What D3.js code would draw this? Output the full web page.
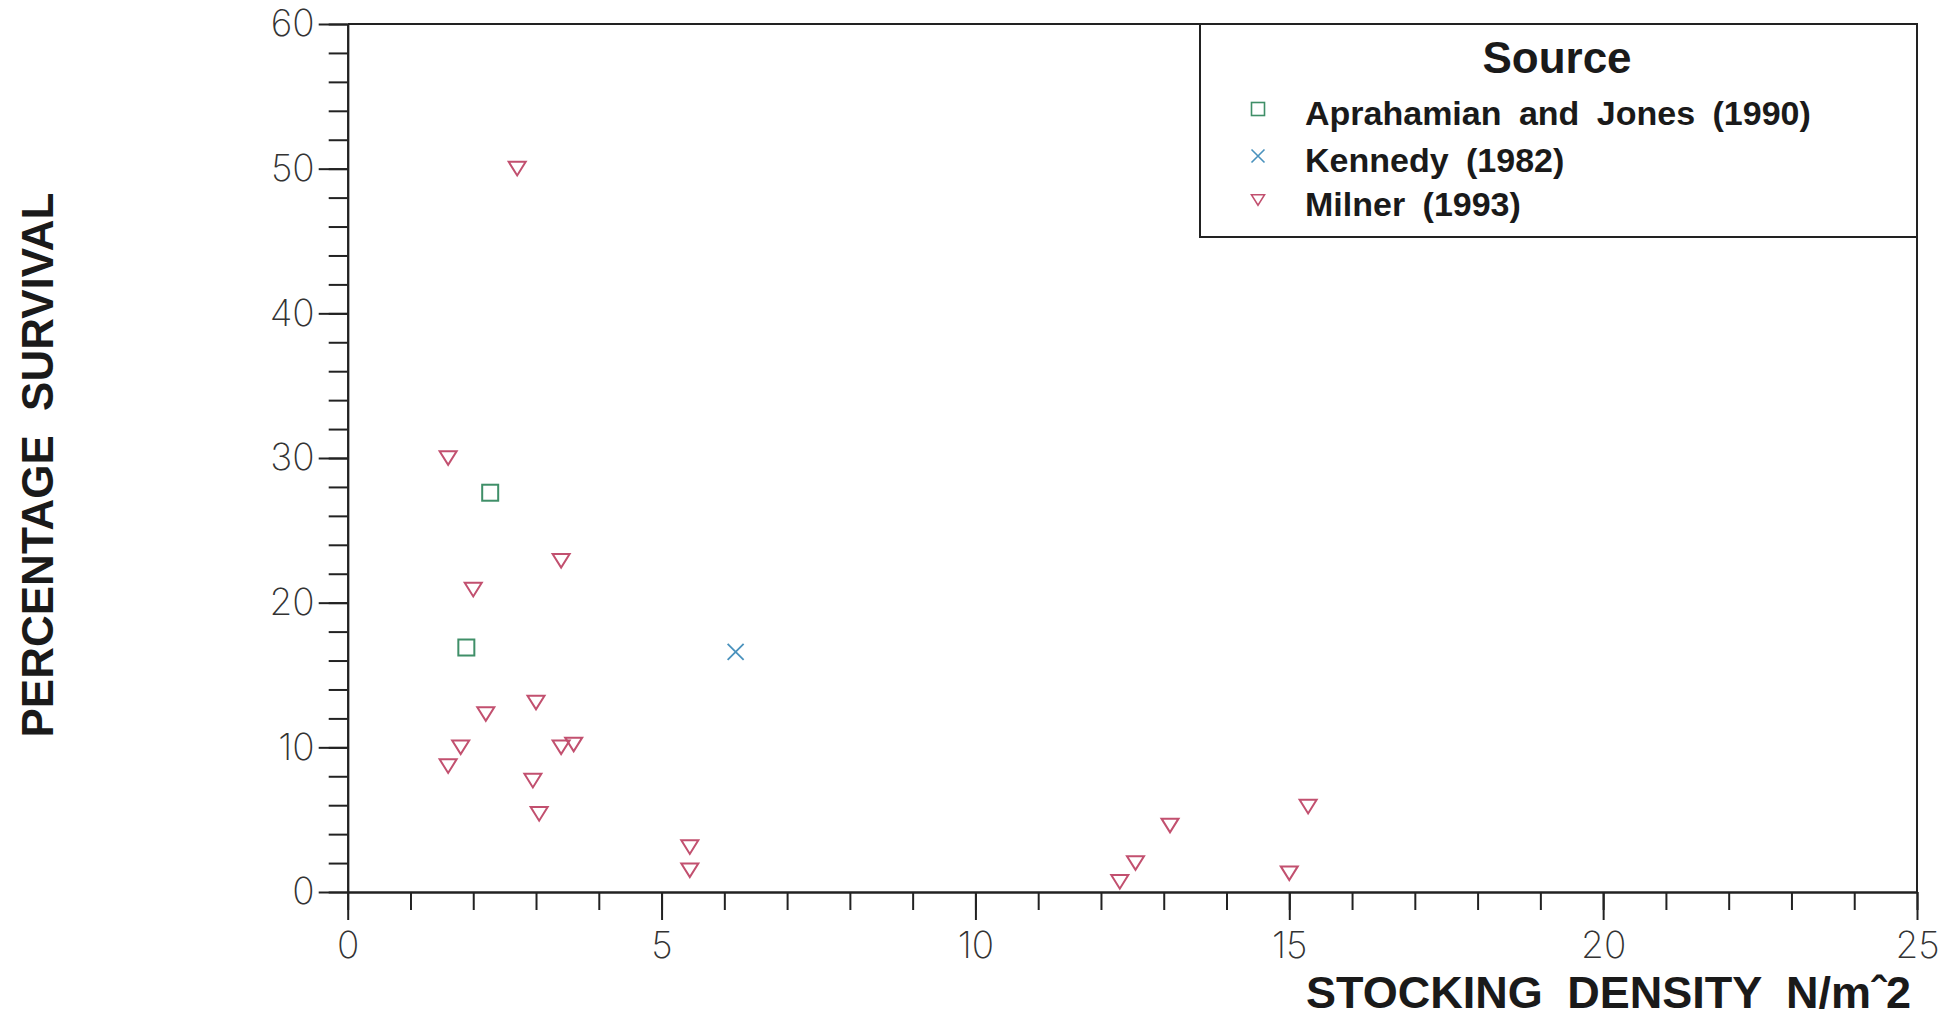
<!DOCTYPE html>
<html lang="en">
<head>
<meta charset="utf-8">
<title>Percentage survival vs stocking density</title>
<script src="https://cdn.jsdelivr.net/npm/d3@7"></script>
<style>
    body { margin: 0; background: #fff; }
    .axis path, .axis line { stroke: #222; stroke-width: 2; fill: none; }
    .axis text { font-family: Inter, sans-serif; font-weight: 200; font-size: 37px; fill: #333; }
    .bold { font-family: "Liberation Sans", Arial, sans-serif; font-weight: bold; fill: #1a1a1a; }
</style>
</head>
<body>
<script>
var w = 1959, h = 1019;

// data: [stocking density, percentage survival]
var milner = [[2.7, 50], [1.6, 30], [3.4, 22.9], [2.0, 20.9], [3.0, 13.1], [2.2, 12.3],
              [1.8, 10.0], [1.6, 8.7], [3.4, 10.0], [3.6, 10.2], [2.95, 7.7], [3.05, 5.4],
              [5.45, 3.1], [5.45, 1.5], [12.3, 0.7], [12.55, 2.0], [13.1, 4.6], [15.0, 1.3], [15.3, 5.9]];
var aprahamian = [[2.27, 27.6], [1.89, 16.9]];
var kennedy = [[6.18, 16.6]];

var xTicks = [0, 5, 10, 15, 20, 25];
var yTicks = [0, 10, 20, 30, 40, 50, 60];
var legendTitle = "Source";
var legendNames = ["Aprahamian and Jones (1990)", "Kennedy (1982)", "Milner (1993)"];

var colors = { square: "#3f8f68", cross: "#4a92bd", tri: "#c2506f" };

var svg = d3.select("body").append("svg").attr("width", w).attr("height", h);

var x = d3.scaleLinear().domain([0, 25]).range([347.7, 1917]);
var y = d3.scaleLinear().domain([0, 60]).range([892, 24]);

// minor ticks first, then the major ones with labels
svg.append("g").attr("class", "axis")
    .attr("transform", "translate(0," + y(0) + ")")
    .call(d3.axisBottom(x).tickValues(d3.range(0, 26, 1)).tickSize(18).tickSizeOuter(0).tickFormat(""));
svg.append("g").attr("class", "axis")
    .attr("transform", "translate(0," + y(0) + ")")
    .call(d3.axisBottom(x).tickValues(xTicks).tickSize(28).tickSizeOuter(0).tickPadding(12));

svg.append("g").attr("class", "axis")
    .attr("transform", "translate(" + x(0) + ",0)")
    .call(d3.axisLeft(y).tickValues(d3.range(0, 61, 2)).tickSize(19).tickSizeOuter(0).tickFormat(""));
svg.append("g").attr("class", "axis")
    .attr("transform", "translate(" + x(0) + ",0)")
    .call(d3.axisLeft(y).tickValues(yTicks).tickSize(29).tickSizeOuter(0).tickPadding(4));

// top and right frame
svg.append("path")
    .attr("d", "M" + x(0) + "," + y(60) + "H" + x(25) + "V" + y(0))
    .attr("fill", "none").attr("stroke", "#222").attr("stroke-width", 2);

// marker shapes
function triPath(cx, cy, s) {
    return "M" + (cx - s * 0.5) + "," + (cy - s * 0.4) + "L" + (cx + s * 0.5) + "," + (cy - s * 0.4) +
           "L" + cx + "," + (cy + s * 0.4) + "Z";
}
function crossPath(cx, cy, s) {
    var r = s / 2;
    return "M" + (cx - r) + "," + (cy - r) + "L" + (cx + r) + "," + (cy + r) +
           "M" + (cx - r) + "," + (cy + r) + "L" + (cx + r) + "," + (cy - r);
}

var pts = svg.append("g");
pts.selectAll(".tri").data(milner).enter().append("path")
    .attr("d", function(d) { return triPath(x(d[0]), y(d[1]), 17); })
    .attr("fill", "none").attr("stroke", colors.tri).attr("stroke-width", 2);
pts.selectAll(".sq").data(aprahamian).enter().append("rect")
    .attr("x", function(d) { return x(d[0]) - 8; })
    .attr("y", function(d) { return y(d[1]) - 8; })
    .attr("width", 16).attr("height", 16)
    .attr("fill", "none").attr("stroke", colors.square).attr("stroke-width", 2);
pts.selectAll(".cr").data(kennedy).enter().append("path")
    .attr("d", function(d) { return crossPath(x(d[0]), y(d[1]), 16); })
    .attr("fill", "none").attr("stroke", colors.cross).attr("stroke-width", 1.8);

// legend
var lg = svg.append("g");
lg.append("rect")
    .attr("x", 1200).attr("y", y(60)).attr("width", x(25) - 1200).attr("height", 237 - y(60))
    .attr("fill", "#fff").attr("stroke", "#222").attr("stroke-width", 2);
lg.append("text").attr("class", "bold")
    .attr("x", 1557).attr("y", 73).attr("text-anchor", "middle")
    .attr("font-size", 44).text(legendTitle);

var rowY = [109, 156, 200];
var baseY = [125, 172, 216];
var mx = 1258;
lg.append("rect").attr("x", mx - 6.5).attr("y", rowY[0] - 6.5).attr("width", 13).attr("height", 13)
    .attr("fill", "none").attr("stroke", colors.square).attr("stroke-width", 1.6);
lg.append("path").attr("d", crossPath(mx, rowY[1], 13))
    .attr("fill", "none").attr("stroke", colors.cross).attr("stroke-width", 1.6);
lg.append("path").attr("d", triPath(mx, rowY[2], 13))
    .attr("fill", "none").attr("stroke", colors.tri).attr("stroke-width", 1.6);

lg.selectAll(".name").data(legendNames).enter().append("text")
    .attr("class", "bold")
    .attr("x", 1305)
    .attr("y", function(d, i) { return baseY[i]; })
    .attr("font-size", 34)
    .attr("word-spacing", 8)
    .text(function(d) { return d; });

// axis titles
svg.append("text").attr("class", "bold")
    .attr("x", 1911).attr("y", 1008).attr("text-anchor", "end")
    .attr("font-size", 45).attr("word-spacing", 12)
    .text("STOCKING DENSITY N/m\u02C62");

svg.append("text").attr("class", "bold")
    .attr("transform", "translate(53,465) rotate(-90)")
    .attr("text-anchor", "middle")
    .attr("font-size", 44).attr("word-spacing", 12)
    .text("PERCENTAGE SURVIVAL");
</script>
</body>
</html>
